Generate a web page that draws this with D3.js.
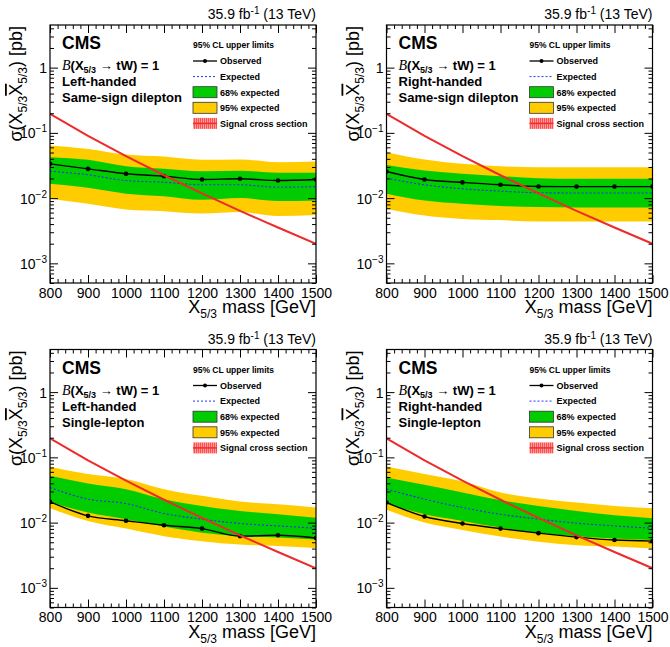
<!DOCTYPE html>
<html><head><meta charset="utf-8">
<script src="https://cdn.jsdelivr.net/npm/d3@7"></script>
<style>
body{margin:0;background:#fff}
svg{display:block}
text{font-family:"Liberation Sans",Arial,Helvetica,sans-serif;fill:#000}
</style>
</head><body>
<svg id="c" width="670" height="647"></svg>
<script>
// ---------------- data ----------------
const masses = [800, 900, 1000, 1100, 1200, 1300, 1400, 1500];
const signalXsec = [0.196, 0.0903, 0.0440, 0.0224, 0.0118, 0.00639, 0.00354, 0.00200];

// Left-handed, same-sign dilepton
const obsLHSS  = [0.0335, 0.0281, 0.0236, 0.0217, 0.0193, 0.0198, 0.0186, 0.0193];
const expLHSS  = [0.0258, 0.0228, 0.0186, 0.0175, 0.0160, 0.0160, 0.0147, 0.0150];
const hi68LHSS = [0.0423, 0.0386, 0.0308, 0.0281, 0.0258, 0.0263, 0.0244, 0.0244];
const lo68LHSS = [0.0166, 0.0144, 0.0117, 0.0107, 0.0094, 0.0100, 0.0090, 0.0092];
const hi95LHSS = [0.0638, 0.0567, 0.0465, 0.0433, 0.0386, 0.0390, 0.0355, 0.0365];
const lo95LHSS = [0.0098, 0.0082, 0.0067, 0.0063, 0.0058, 0.0061, 0.0053, 0.0055];

// Right-handed, same-sign dilepton
const obsRHSS  = [0.0256, 0.0193, 0.0174, 0.0160, 0.0151, 0.0150, 0.0150, 0.0150];
const expRHSS  = [0.0202, 0.0160, 0.0139, 0.0128, 0.0121, 0.0120, 0.0120, 0.0120];
const hi68RHSS = [0.0323, 0.0265, 0.0236, 0.0217, 0.0202, 0.0198, 0.0198, 0.0198];
const lo68RHSS = [0.0117, 0.0092, 0.0082, 0.0076, 0.0073, 0.0072, 0.0072, 0.0072];
const hi95RHSS = [0.0504, 0.0390, 0.0335, 0.0308, 0.0297, 0.0297, 0.0297, 0.0297];
const lo95RHSS = [0.0069, 0.0054, 0.0048, 0.0046, 0.0044, 0.0044, 0.0044, 0.0044];

// Left-handed, single-lepton
const obsLHSL  = [0.0208, 0.0127, 0.0107, 0.0091, 0.0081, 0.0062, 0.0064, 0.0058];
const expLHSL  = [0.0345, 0.0229, 0.0196, 0.0138, 0.0113, 0.0097, 0.0089, 0.0082];
const hi68LHSL = [0.0522, 0.0398, 0.0326, 0.0229, 0.0180, 0.0151, 0.0134, 0.0119];
const lo68LHSL = [0.0203, 0.0143, 0.0113, 0.0087, 0.0070, 0.0062, 0.0059, 0.0055];
const hi95LHSL = [0.0718, 0.0554, 0.0465, 0.0326, 0.0257, 0.0210, 0.0191, 0.0170];
const lo95LHSL = [0.0166, 0.0106, 0.0081, 0.0062, 0.0052, 0.0046, 0.0044, 0.0041];

// Right-handed, single-lepton
const obsRHSL  = [0.0203, 0.0124, 0.0097, 0.0081, 0.0069, 0.0060, 0.0054, 0.0052];
const expRHSL  = [0.0326, 0.0229, 0.0170, 0.0134, 0.0113, 0.0098, 0.0089, 0.0082];
const hi68RHSL = [0.0492, 0.0380, 0.0290, 0.0221, 0.0180, 0.0151, 0.0130, 0.0117];
const lo68RHSL = [0.0196, 0.0134, 0.0106, 0.0084, 0.0070, 0.0062, 0.0057, 0.0054];
const hi95RHSL = [0.0726, 0.0554, 0.0428, 0.0290, 0.0234, 0.0203, 0.0180, 0.0166];
const lo95RHSL = [0.0157, 0.0100, 0.0077, 0.0061, 0.0051, 0.0045, 0.0043, 0.0040];

const xTickValues = [800, 900, 1000, 1100, 1200, 1300, 1400, 1500];
const yTickValues = [1e-3, 1e-2, 1e-1, 1];
const yTickBase   = ["10", "10", "10", "1"];
const yTickExp    = ["\u22123", "\u22122", "\u22121", ""];
const legendLabels = ["Observed", "Expected", "68% expected", "95% expected", "Signal cross section"];

const panels = [
  {handed: "Left-handed",  channel: "Same-sign dilepton", obs: obsLHSS, exp: expLHSS, lo68: lo68LHSS, hi68: hi68LHSS, lo95: lo95LHSS, hi95: hi95LHSS},
  {handed: "Right-handed", channel: "Same-sign dilepton", obs: obsRHSS, exp: expRHSS, lo68: lo68RHSS, hi68: hi68RHSS, lo95: lo95RHSS, hi95: hi95RHSS},
  {handed: "Left-handed",  channel: "Single-lepton",      obs: obsLHSL, exp: expLHSL, lo68: lo68LHSL, hi68: hi68LHSL, lo95: lo95LHSL, hi95: hi95LHSL},
  {handed: "Right-handed", channel: "Single-lepton",      obs: obsRHSL, exp: expRHSL, lo68: lo68RHSL, hi68: hi68RHSL, lo95: lo95RHSL, hi95: hi95RHSL}
];

// ---------------- drawing ----------------
const svg = d3.select("#c");
const defs = svg.append("defs");
const pat = defs.append("pattern").attr("id", "hatch").attr("patternUnits", "userSpaceOnUse")
  .attr("width", 2).attr("height", 4);
pat.append("rect").attr("width", 2).attr("height", 4).attr("fill", "#ff9a9a");
pat.append("rect").attr("width", 1).attr("height", 4).attr("fill", "#ff5050");

const origins = [[0, 0], [336.5, 0], [0, 324.5], [336.5, 324.5]];
const C = {green: "#00cc00", yellow: "#ffcc00", red: "#ee2a2a", blue: "#2b2bff"};

const curve = d3.curveMonotoneX;

panels.forEach((p, i) => {
  const [ox, oy] = origins[i];
  const L = ox + 50, R = ox + 316, T = oy + 25, B = oy + 283;
  const x = d3.scaleLinear().domain([800, 1500]).range([L, R]);
  const y = d3.scaleLog().domain([5e-4, 4.5]).range([B, T]);
  const g = svg.append("g");

  const clipId = "clip" + i;
  defs.append("clipPath").attr("id", clipId).append("rect")
    .attr("x", L).attr("y", T).attr("width", R - L).attr("height", B - T);
  const plot = g.append("g").attr("clip-path", `url(#${clipId})`);

  const idx = d3.range(masses.length);
  const band = (lo, hi) => d3.area().curve(curve)
    .x(k => x(masses[k])).y0(k => y(lo[k])).y1(k => y(hi[k]))(idx);
  const line = arr => d3.line().curve(curve).x(k => x(masses[k])).y(k => y(arr[k]))(idx);

  plot.append("path").attr("d", band(p.lo95, p.hi95)).attr("fill", C.yellow);
  plot.append("path").attr("d", band(p.lo68, p.hi68)).attr("fill", C.green);
  plot.append("path").attr("d", line(p.exp)).attr("fill", "none")
    .attr("stroke", C.blue).attr("stroke-width", 1.1).attr("stroke-dasharray", "2,2");
  plot.append("path").attr("d", line(p.obs)).attr("fill", "none")
    .attr("stroke", "#000").attr("stroke-width", 1.4);
  plot.selectAll("circle.obs").data(idx).enter().append("circle")
    .attr("cx", k => x(masses[k])).attr("cy", k => y(p.obs[k])).attr("r", 2.3).attr("fill", "#000");
  plot.append("path").attr("d", d3.line().x(k => x(masses[k])).y(k => y(signalXsec[k]))(idx))
    .attr("fill", "none").attr("stroke", C.red).attr("stroke-width", 2);

  // axes (ticks inside)
  const xMinor = d3.range(800, 1501, 20).filter(v => v % 100 !== 0);
  const yMinor = [];
  for (let e = -4; e <= 0; e++) for (let m = 2; m <= 9; m++) {
    const v = m * Math.pow(10, e);
    if (v >= 5e-4 && v <= 4.5) yMinor.push(v);
  }
  const styleAxis = sel => { sel.select(".domain").remove(); sel.selectAll("line").attr("stroke", "#000"); };

  const xb = g.append("g").attr("transform", `translate(0,${B})`)
    .call(d3.axisBottom(x).tickValues(xTickValues).tickSizeInner(-8).tickSizeOuter(0).tickPadding(5).tickFormat(d3.format("d")));
  styleAxis(xb);
  xb.selectAll("text").attr("font-size", 14).attr("fill", "#000").attr("font-family", "Liberation Sans, Arial, sans-serif");
  g.append("g").attr("transform", `translate(0,${B})`)
    .call(d3.axisBottom(x).tickValues(xMinor).tickSizeInner(-4).tickSizeOuter(0).tickFormat(""))
    .call(styleAxis);
  g.append("g").attr("transform", `translate(0,${T})`)
    .call(d3.axisTop(x).tickValues(xTickValues).tickSizeInner(-8).tickSizeOuter(0).tickFormat(""))
    .call(styleAxis);
  g.append("g").attr("transform", `translate(0,${T})`)
    .call(d3.axisTop(x).tickValues(xMinor).tickSizeInner(-4).tickSizeOuter(0).tickFormat(""))
    .call(styleAxis);

  const yl = g.append("g").attr("transform", `translate(${L},0)`)
    .call(d3.axisLeft(y).tickValues(yTickValues).tickSizeInner(-8).tickSizeOuter(0).tickPadding(3).tickFormat(""));
  styleAxis(yl);
  yl.selectAll(".tick").each(function(d, j) {
    const t = d3.select(this).append("text").attr("x", -3).attr("dy", "0.35em")
      .attr("text-anchor", "end").attr("font-size", 14).attr("fill", "#000")
      .attr("font-family", "Liberation Sans, Arial, sans-serif");
    t.append("tspan").text(yTickBase[j]);
    if (yTickExp[j]) t.append("tspan").attr("font-size", 10).attr("dy", -6).text(yTickExp[j]);
  });
  g.append("g").attr("transform", `translate(${L},0)`)
    .call(d3.axisLeft(y).tickValues(yMinor).tickSizeInner(-4).tickSizeOuter(0).tickFormat(""))
    .call(styleAxis);
  g.append("g").attr("transform", `translate(${R},0)`)
    .call(d3.axisRight(y).tickValues(yTickValues).tickSizeInner(-8).tickSizeOuter(0).tickFormat(""))
    .call(styleAxis);
  g.append("g").attr("transform", `translate(${R},0)`)
    .call(d3.axisRight(y).tickValues(yMinor).tickSizeInner(-4).tickSizeOuter(0).tickFormat(""))
    .call(styleAxis);

  g.append("rect").attr("x", L).attr("y", T).attr("width", R - L).attr("height", B - T)
    .attr("fill", "none").attr("stroke", "#000").attr("stroke-width", 1.2);

  // axis titles
  const xt = g.append("text").attr("x", R).attr("y", oy + 313).attr("text-anchor", "end").attr("font-size", 18);
  xt.append("tspan").text("X");
  xt.append("tspan").attr("font-size", 12).attr("dy", 5).text("5/3");
  xt.append("tspan").attr("dy", -5).text(" mass [GeV]");

  const yt = g.append("text").attr("transform", `translate(${ox + 22},${T + 1}) rotate(-90)`)
    .attr("text-anchor", "end").attr("font-size", 18);
  yt.append("tspan").text("\u03c3(X");
  yt.append("tspan").attr("font-size", 12).attr("dy", 5).text("5/3");
  yt.append("tspan").attr("dy", -5).attr("text-decoration", "overline").style("text-decoration", "overline").text("X");
  yt.append("tspan").attr("font-size", 12).attr("dy", 5).text("5/3");
  yt.append("tspan").attr("dy", -5).text(") [pb]");

  // lumi
  const lt = g.append("text").attr("x", R).attr("y", oy + 19).attr("text-anchor", "end").attr("font-size", 14);
  lt.append("tspan").text("35.9 fb");
  lt.append("tspan").attr("font-size", 10).attr("dy", -5).text("-1");
  lt.append("tspan").attr("dy", 5).text(" (13 TeV)");

  // CMS + labels
  g.append("text").attr("x", ox + 62).attr("y", oy + 49).attr("font-size", 17.5).attr("font-weight", "bold").text("CMS");
  const bt = g.append("text").attr("x", ox + 62).attr("y", oy + 70).attr("font-size", 13).attr("font-weight", "bold");
  bt.append("tspan").attr("font-family", "Liberation Serif, Times New Roman, serif").attr("font-style", "italic")
    .attr("font-weight", "normal").attr("font-size", 14).text("B");
  bt.append("tspan").text("(X");
  bt.append("tspan").attr("font-size", 9).attr("dy", 3).text("5/3");
  bt.append("tspan").attr("dy", -3).attr("font-weight", "normal").text(" \u2192 ");
  bt.append("tspan").text("tW) = 1");
  g.append("text").attr("x", ox + 62).attr("y", oy + 86).attr("font-size", 13).attr("font-weight", "bold").text(p.handed);
  g.append("text").attr("x", ox + 62).attr("y", oy + 102).attr("font-size", 13).attr("font-weight", "bold").text(p.channel);

  // legend
  const lx = ox + 193, tx = ox + 220;
  g.append("text").attr("x", lx).attr("y", oy + 48).attr("font-size", 8.5).attr("font-weight", "bold").text("95% CL upper limits");
  const ly = k => oy + 61 + k * 15.6;
  legendLabels.forEach((lab, k) => {
    g.append("text").attr("x", tx).attr("y", ly(k) + 3.3).attr("font-size", 9).attr("font-weight", "bold").text(lab);
  });
  g.append("line").attr("x1", lx).attr("x2", lx + 24).attr("y1", ly(0)).attr("y2", ly(0)).attr("stroke", "#000").attr("stroke-width", 1.3);
  g.append("circle").attr("cx", lx + 12).attr("cy", ly(0)).attr("r", 2).attr("fill", "#000");
  g.append("line").attr("x1", lx).attr("x2", lx + 24).attr("y1", ly(1)).attr("y2", ly(1))
    .attr("stroke", C.blue).attr("stroke-width", 1).attr("stroke-dasharray", "2,2");
  g.append("rect").attr("x", lx).attr("y", ly(2) - 5.5).attr("width", 24).attr("height", 11)
    .attr("fill", C.green).attr("stroke", "#333").attr("stroke-width", 0.8);
  g.append("rect").attr("x", lx).attr("y", ly(3) - 5.5).attr("width", 24).attr("height", 11)
    .attr("fill", C.yellow).attr("stroke", "#333").attr("stroke-width", 0.8);
  g.append("rect").attr("x", lx).attr("y", ly(4) - 5.5).attr("width", 24).attr("height", 11).attr("fill", "url(#hatch)");
  g.append("line").attr("x1", lx).attr("x2", lx + 24).attr("y1", ly(4)).attr("y2", ly(4)).attr("stroke", C.red).attr("stroke-width", 1.5);
});
</script>
</body></html>
